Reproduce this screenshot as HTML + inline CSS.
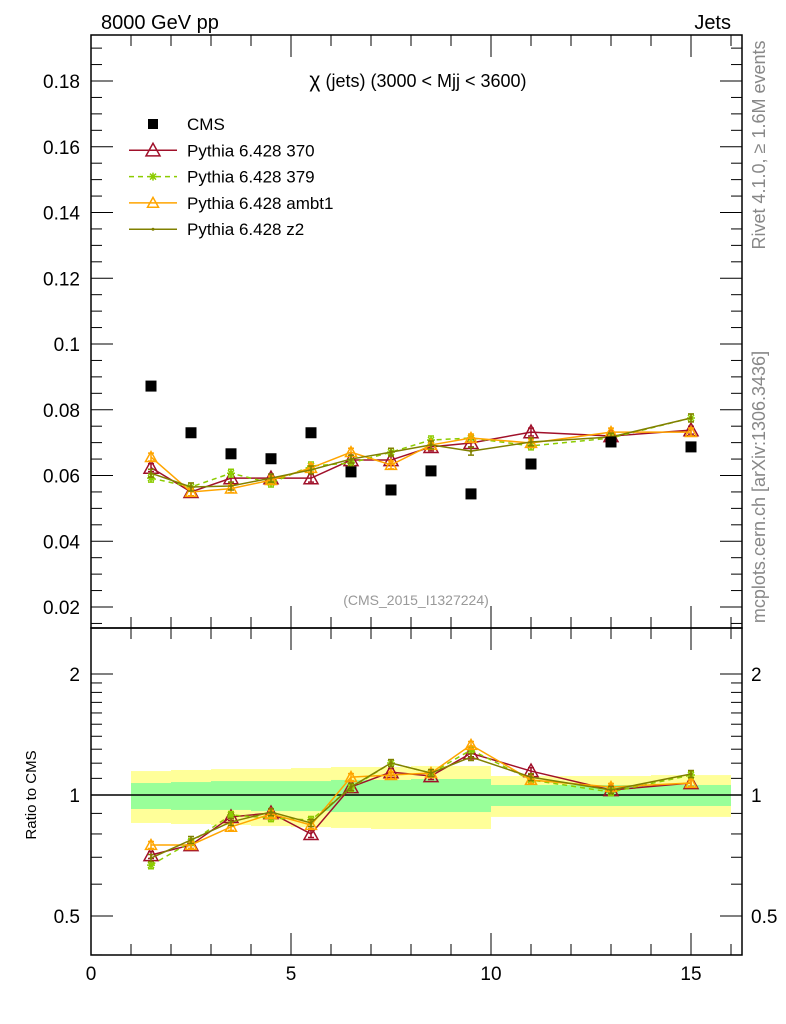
<!DOCTYPE html>
<html><head><meta charset="utf-8"><style>
body{margin:0;background:#fff;}
svg{display:block;font-family:"Liberation Sans",sans-serif;}
</style></head><body>
<svg id="chart" width="786" height="1024" viewBox="0 0 786 1024" xmlns="http://www.w3.org/2000/svg">
<g id="g"></g>
</svg>
<script>
const binLo=[1,2,3,4,5,6,7,8,9,10,12,14];
const binHi=[2,3,4,5,6,7,8,9,10,12,14,16];
const xc=[1.5,2.5,3.5,4.5,5.5,6.5,7.5,8.5,9.5,11,13,15];
const cms=[0.0872,0.0730,0.0666,0.0651,0.0730,0.0611,0.0556,0.0614,0.0544,0.0635,0.0702,0.0687];
const p370=[0.0624,0.0550,0.0592,0.0592,0.0592,0.0647,0.0647,0.0687,0.0699,0.0732,0.0720,0.0738];
const p379=[0.0592,0.0565,0.0607,0.0577,0.0629,0.0638,0.0671,0.0708,0.0714,0.0690,0.0714,0.0775];
const pambt1=[0.0656,0.0550,0.0560,0.0586,0.0623,0.0671,0.0632,0.0693,0.0714,0.0699,0.0732,0.0732];
const pz2=[0.0607,0.0565,0.0568,0.0592,0.0617,0.0650,0.0671,0.0693,0.0674,0.0702,0.0717,0.0775];
const r370=[0.709,0.751,0.882,0.902,0.800,1.047,1.140,1.115,1.270,1.147,1.029,1.071];
const r379=[0.669,0.764,0.892,0.876,0.867,1.041,1.201,1.134,1.294,1.090,1.017,1.121];
const rambt1=[0.751,0.751,0.833,0.897,0.842,1.108,1.121,1.134,1.332,1.090,1.047,1.071];
const rz2=[0.697,0.773,0.857,0.907,0.852,1.047,1.201,1.134,1.243,1.108,1.029,1.128];
const yelUp=[1.147,1.154,1.160,1.160,1.167,1.174,1.174,1.181,1.181,1.115,1.115,1.121];
const yelDn=[0.852,0.847,0.842,0.837,0.832,0.828,0.823,0.823,0.823,0.882,0.882,0.882];
const grnUp=[1.071,1.077,1.083,1.083,1.083,1.090,1.090,1.096,1.096,1.059,1.059,1.059];
const grnDn=[0.923,0.918,0.918,0.912,0.912,0.907,0.907,0.907,0.907,0.939,0.939,0.939];
const yTicks=[0.02,0.04,0.06,0.08,0.1,0.12,0.14,0.16,0.18];
const yTickLabels=["0.02","0.04","0.06","0.08","0.1","0.12","0.14","0.16","0.18"];
const xTicks=[0,5,10,15];
const rTicks=[0.5,1,2];

const NS="http://www.w3.org/2000/svg";
const g=document.getElementById('g');
const L=91,R=742,T=35,MB=628,RB=955;
const X=v=>91+40*v;
const Y=v=>344-(v-0.1)*3287.5;
const RY=r=>795-Math.log2(r)*121;
function el(tag,attrs,parent){const e=document.createElementNS(NS,tag);for(const k in attrs)e.setAttribute(k,attrs[k]);(parent||g).appendChild(e);return e;}
function txt(s,attrs,parent){const e=el('text',attrs,parent);e.textContent=s;return e;}

for(let i=0;i<binLo.length;i++){
  const b=el('rect',{x:X(binLo[i]),y:RY(yelUp[i]),width:X(binHi[i])-X(binLo[i]),height:RY(yelDn[i])-RY(yelUp[i]),fill:'#ffff99'});
  
  
  const c=el('rect',{x:X(binLo[i]),y:RY(grnUp[i]),width:X(binHi[i])-X(binLo[i]),height:RY(grnDn[i])-RY(grnUp[i]),fill:'#99ff99'});
  
  
}
el('line',{x1:L,x2:R,y1:RY(1),y2:RY(1),stroke:'#000','stroke-width':1.5});

const f1=el('rect',{x:L,y:T,width:R-L,height:MB-T,fill:'none',stroke:'#000','stroke-width':1.5});

const f2=el('rect',{x:L,y:MB,width:R-L,height:RB-MB,fill:'none',stroke:'#000','stroke-width':1.5});


for(let v=0.015;v<0.194;v+=0.005){
  const major=Math.abs(Math.round(v*1000)%20)<0.5;
  const len=major?22:11;const y=Y(v);
  el('line',{x1:L,x2:L+len,y1:y,y2:y,stroke:'#000'});
  el('line',{x1:R,x2:R-len,y1:y,y2:y,stroke:'#000'});
}
yTicks.forEach((v,i)=>{const t=txt(yTickLabels[i],{x:80,y:Y(v)+7,'text-anchor':'end','font-size':19});
 });
for(let v=0;v<=16;v++){
  const major=v%5===0;const len=major?22:11;const x=X(v);
  el('line',{x1:x,x2:x,y1:MB,y2:MB-len,stroke:'#000'});
  el('line',{x1:x,x2:x,y1:T,y2:T+len,stroke:'#000'});
  el('line',{x1:x,x2:x,y1:RB,y2:RB-len,stroke:'#000'});
  el('line',{x1:x,x2:x,y1:MB,y2:MB+len,stroke:'#000'});
}
xTicks.forEach(v=>{const t=txt(String(v),{x:X(v),y:980,'text-anchor':'middle','font-size':19});
 });
[0.4,0.5,0.6,0.7,0.8,0.9,1,1.1,1.2,1.3,1.4,1.5,1.6,1.7,1.8,1.9,2].forEach(r=>{
  const major=(r===0.5||r===1||r===2);const len=major?22:11;const y=RY(r);
  if(y>RB||y<MB)return;
  el('line',{x1:L,x2:L+len,y1:y,y2:y,stroke:'#000'});
  el('line',{x1:R,x2:R-len,y1:y,y2:y,stroke:'#000'});
});
rTicks.forEach(r=>{
  const t=txt(String(r),{x:80,y:RY(r)+7,'text-anchor':'end','font-size':19});
  
  const t2=txt(String(r),{x:751,y:RY(r)+7,'font-size':19});
  
});

function tri(x,y,c,s){return el('polygon',{points:`${x},${y-s} ${x-s},${y+s*0.8} ${x+s},${y+s*0.8}`,fill:'none',stroke:c,'stroke-width':1.5});}
function star(x,y,c){el('path',{d:`M${x-4},${y}h8M${x},${y-4}v8M${x-3},${y-3}l6,6M${x+3},${y-3}l-6,6`,stroke:c,'stroke-width':1.5});}
const series=[
 {name:'pythia-370',main:p370,rat:r370,c:'#a0102a',dash:null,m:'tri'},
 {name:'pythia-379',main:p379,rat:r379,c:'#8ccc00',dash:'5,4',m:'star'},
 {name:'pythia-ambt1',main:pambt1,rat:rambt1,c:'#ffa500',dash:null,m:'tri'},
 {name:'pythia-z2',main:pz2,rat:rz2,c:'#808000',dash:null,m:'dot'},
];
series.forEach(s=>{
  [[s.main,Y,0.0012],[s.rat,RY,0.02]].forEach(([arr,fy,err],k)=>{
    const pts=arr.map((v,i)=>X(xc[i])+','+fy(v)).join(' ');
    const pl=el('polyline',{points:pts,fill:'none',stroke:s.c,'stroke-width':1.5});
    if(s.dash)pl.setAttribute('stroke-dasharray',s.dash);
    
    
    arr.forEach((v,i)=>{
      const x=X(xc[i]);const y=fy(v);
      const e=k?v*err:err;
      const y1=fy(v+e),y2=fy(v-e);
      el('path',{d:`M${x},${y1}V${y2}M${x-3},${y1}h6M${x-3},${y2}h6`,stroke:s.c,'stroke-width':1.5});
      if(s.m==='tri'){const p=tri(x,y,s.c,s.c==='#a0102a'?7:5.5);}
      else if(s.m==='star')star(x,y,s.c);
      else el('circle',{cx:x,cy:y,r:1.5,fill:s.c});
    });
  });
});
cms.forEach((v,i)=>{
  const r=el('rect',{x:X(xc[i])-5.5,y:Y(v)-5.5,width:11,height:11,fill:'#000'});
  
  
});

const leg=[['CMS',null],['Pythia 6.428 370',series[0]],['Pythia 6.428 379',series[1]],['Pythia 6.428 ambt1',series[2]],['Pythia 6.428 z2',series[3]]];
leg.forEach((l,i)=>{
  const y=124+i*26.3;
  const t=txt(l[0],{x:187,y:y+6,'font-size':17});
  
  
  if(!l[1]){el('rect',{x:148,y:y-5,width:10,height:10,fill:'#000'});return;}
  const s=l[1];
  const ln=el('line',{x1:129,x2:177,y1:y,y2:y,stroke:s.c,'stroke-width':1.5});
  if(s.dash)ln.setAttribute('stroke-dasharray',s.dash);
  if(s.m==='tri')tri(153,y,s.c,s.c==='#a0102a'?7:5.5);else if(s.m==='star')star(153,y,s.c);else el('circle',{cx:153,cy:y,r:1.5,fill:s.c});
});
</script>
<div style="position:absolute;left:0;top:0;width:786px;height:1024px;pointer-events:none;">
<svg width="786" height="1024" style="position:absolute;left:0;top:0" font-family="Liberation Sans, sans-serif">
<text x="101" y="29" font-size="20">8000 GeV pp</text>
<text x="731" y="29" font-size="20" text-anchor="end">Jets</text>
<text x="418" y="87" font-size="18" text-anchor="middle"><tspan font-size="21">χ</tspan> (jets) (3000 &lt; Mjj &lt; 3600)</text>
<text x="416" y="605" font-size="14" fill="#999" text-anchor="middle">(CMS_2015_I1327224)</text>
<text transform="translate(36,795) rotate(-90)" font-size="15" text-anchor="middle">Ratio to CMS</text>
<text transform="translate(765,145) rotate(-90)" font-size="18" fill="#888" text-anchor="middle">Rivet 4.1.0, ≥ 1.6M events</text>
<text transform="translate(765,487) rotate(-90)" font-size="18" fill="#888" text-anchor="middle">mcplots.cern.ch [arXiv:1306.3436]</text>
</svg></div>
</body></html>
